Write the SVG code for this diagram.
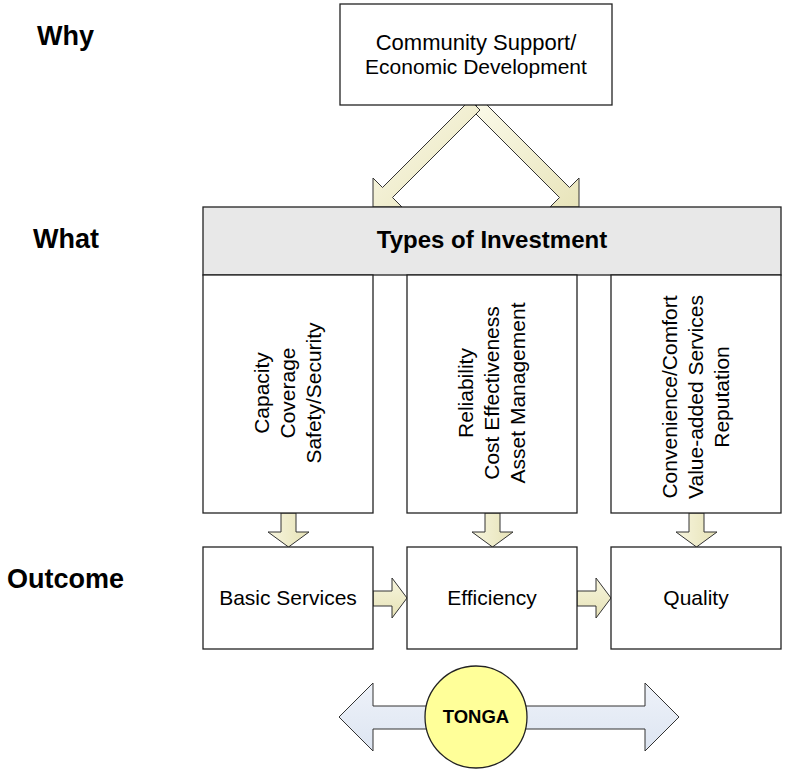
<svg xmlns="http://www.w3.org/2000/svg" width="785" height="769" viewBox="0 0 785 769">
<defs>
<linearGradient id="ylw" x1="0" y1="0" x2="1" y2="1">
<stop offset="0" stop-color="#FBFAEA"/>
<stop offset="1" stop-color="#E8E4BA"/>
</linearGradient>
<linearGradient id="ylwv" x1="0" y1="0" x2="1" y2="0">
<stop offset="0" stop-color="#F7F5DE"/>
<stop offset="1" stop-color="#E6E2B6"/>
</linearGradient>
<linearGradient id="ylwh" x1="0" y1="0" x2="0" y2="1">
<stop offset="0" stop-color="#F7F5DE"/>
<stop offset="1" stop-color="#E6E2B6"/>
</linearGradient>
<linearGradient id="blu" x1="0" y1="0" x2="0" y2="1">
<stop offset="0" stop-color="#EEF2F9"/>
<stop offset="1" stop-color="#DDE5F2"/>
</linearGradient>
</defs>
<style>
.box{fill:#fff;stroke:#222;stroke-width:1.3}
.band{fill:#E8E8E8;stroke:#222;stroke-width:1.3}
.arr{stroke:#333;stroke-width:1;stroke-linejoin:miter}
.t{font-family:"Liberation Sans",Arial,sans-serif;font-size:21px;fill:#000;text-anchor:middle}
.lbl{font-family:"Liberation Sans",Arial,sans-serif;font-size:27px;font-weight:bold;fill:#000}
.hd{font-family:"Liberation Sans",Arial,sans-serif;font-size:24px;font-weight:bold;fill:#000;text-anchor:middle}
</style>
<g id="labels">
<text class="lbl" x="37" y="45">Why</text>
<text class="lbl" x="33" y="248">What</text>
<text class="lbl" x="7" y="588">Outcome</text>
</g>
<g id="connectors">
<polygon class="arr" fill="url(#ylw)" points="482,100 569.5,187.5 579,178 579,207 550,207 559.5,197.5 472,110"/>
<polygon class="arr" fill="url(#ylw)" points="470,100 382.5,187.5 373,178 373,207 402,207 392.5,197.5 480,110"/>
<polygon class="arr" fill="url(#ylwv)" points="281,513 281,532 268,532 288.5,547 309,532 296,532 296,513"/>
<polygon class="arr" fill="url(#ylwv)" points="485,513 485,532 472,532 492.5,547 513,532 500,532 500,513"/>
<polygon class="arr" fill="url(#ylwv)" points="689,513 689,532 676,532 696.5,547 717,532 704,532 704,513"/>
<polygon class="arr" fill="url(#ylwh)" points="373,591 392,591 392,578 407,598 392,618 392,606 373,606"/>
<polygon class="arr" fill="url(#ylwh)" points="577,591 596,591 596,578 611,598 596,618 596,606 577,606"/>
</g>
<g id="why">
<rect class="box" x="340" y="4" width="272" height="101"/>
<text class="t" x="476" y="50" style="font-size:22px">Community Support/</text>
<text class="t" x="476" y="74">Economic Development</text>
</g>
<g id="types">
<rect class="band" x="203" y="207" width="578" height="68"/>
<text class="hd" x="492" y="248">Types of Investment</text>
</g>
<g id="col1">
<rect class="box" x="203" y="275" width="170" height="238"/>
<g transform="rotate(-90)">
<text class="t" x="-393" y="269">Capacity</text>
<text class="t" x="-393" y="295">Coverage</text>
<text class="t" x="-393" y="321">Safety/Security</text>
</g>
</g>
<g id="col2">
<rect class="box" x="407" y="275" width="170" height="238"/>
<g transform="rotate(-90)">
<text class="t" x="-393" y="473">Reliability</text>
<text class="t" x="-393" y="499">Cost Effectiveness</text>
<text class="t" x="-393" y="525">Asset Management</text>
</g>
</g>
<g id="col3">
<rect class="box" x="611" y="275" width="170" height="238"/>
<g transform="rotate(-90)">
<text class="t" x="-397" y="677">Convenience/Comfort</text>
<text class="t" x="-397" y="703">Value-added Services</text>
<text class="t" x="-397" y="729">Reputation</text>
</g>
</g>
<g id="basic">
<rect class="box" x="203" y="547" width="170" height="102"/>
<text class="t" x="288" y="605">Basic Services</text>
</g>
<g id="efficiency">
<rect class="box" x="407" y="547" width="170" height="102"/>
<text class="t" x="492" y="605">Efficiency</text>
</g>
<g id="quality">
<rect class="box" x="611" y="547" width="170" height="102"/>
<text class="t" x="696" y="605">Quality</text>
</g>
<g id="tonga">
<polygon class="arr" fill="url(#blu)" points="339,717 373,683 373,706 645,706 645,683 679,717 645,751 645,729 373,729 373,751"/>
<circle cx="476" cy="717" r="51" fill="#FFFF99" stroke="#222" stroke-width="1.3"/>
<text x="476" y="723" font-family="Liberation Sans, Arial, sans-serif" font-size="18.5" font-weight="bold" text-anchor="middle">TONGA</text>
</g>
</svg>
